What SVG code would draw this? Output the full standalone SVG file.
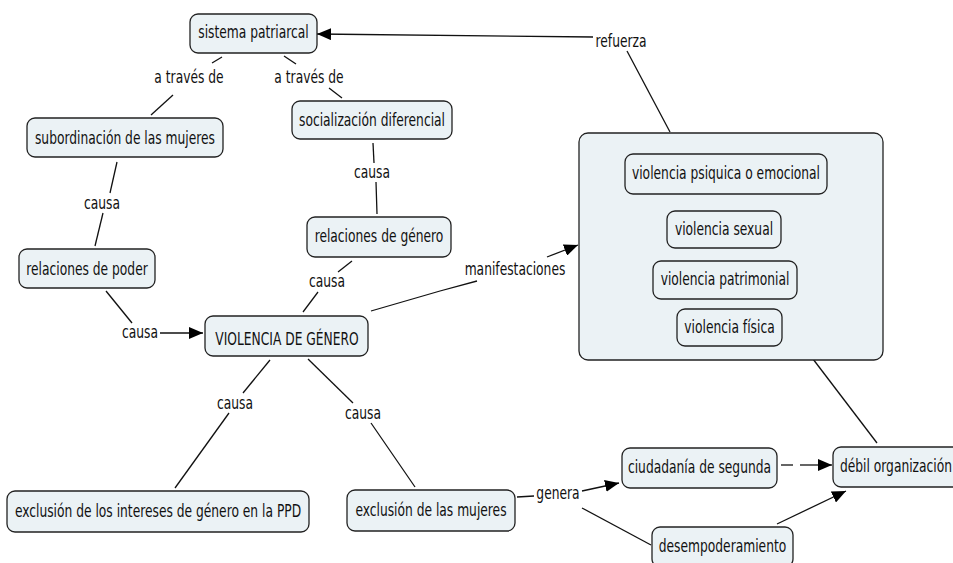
<svg xmlns="http://www.w3.org/2000/svg" width="953" height="563" viewBox="0 0 953 563">
<style>
.n{fill:#ebf2f5;stroke:#222;stroke-width:1.3}
.t{font-family:"DejaVu Sans Condensed","DejaVu Sans",sans-serif;font-size:17.5px;fill:#111;text-anchor:middle;transform-box:fill-box;transform-origin:center;transform:scaleX(0.78)}
.c line,.c polyline{stroke:#111;stroke-width:1.3;fill:none}
.a{marker-end:url(#ah)}
</style>
<defs>
<marker id="ah" markerUnits="userSpaceOnUse" markerWidth="14" markerHeight="12" viewBox="0 0 14 12" refX="14" refY="6" orient="auto">
<path d="M0,0 L14,6 L0,12 z" fill="#000"/>
</marker>
</defs>
<rect width="953" height="563" fill="#fff"/>
<g class="c" id="connectors">
<line x1="222" y1="57" x2="212" y2="63"/>
<line x1="173" y1="95" x2="151" y2="115"/>
<line x1="284" y1="56" x2="296" y2="64"/>
<line x1="329" y1="88" x2="342" y2="98"/>
<line x1="373" y1="143" x2="374" y2="163"/>
<line x1="376" y1="182" x2="377" y2="214"/>
<line x1="352" y1="261" x2="338" y2="272"/>
<line x1="318" y1="292" x2="303" y2="312"/>
<line x1="117" y1="162" x2="110" y2="193"/>
<line x1="103" y1="213" x2="95" y2="246"/>
<line x1="106" y1="291" x2="132" y2="323"/>
<line class="a" x1="160" y1="333" x2="203" y2="333"/>
<polyline points="371,311 440,291 477,281"/>
<line class="a" x1="547" y1="257" x2="578" y2="245"/>
<line x1="670" y1="132" x2="627" y2="51"/>
<line class="a" x1="593" y1="37" x2="317" y2="34"/>
<line x1="813" y1="359" x2="877" y2="443"/>
<line x1="270" y1="360" x2="243" y2="393"/>
<line x1="229" y1="413" x2="175" y2="488"/>
<line x1="308" y1="359" x2="353" y2="403"/>
<line x1="371" y1="423" x2="415" y2="487"/>
<line x1="517" y1="497" x2="534" y2="496"/>
<line class="a" x1="582" y1="491" x2="619" y2="483"/>
<line x1="582" y1="508" x2="651" y2="545"/>
<line x1="781" y1="465" x2="793" y2="465"/>
<line class="a" x1="800" y1="465" x2="832" y2="465"/>
<line class="a" x1="777" y1="524" x2="846" y2="491"/>
<text class="t" x="189" y="83">a través de</text>
<text class="t" x="309" y="83">a través de</text>
<text class="t" x="372" y="178">causa</text>
<text class="t" x="327" y="287">causa</text>
<text class="t" x="102" y="209">causa</text>
<text class="t" x="140" y="338">causa</text>
<text class="t" x="235" y="409">causa</text>
<text class="t" x="363" y="419">causa</text>
<text class="t" x="515" y="275">manifestaciones</text>
<text class="t" x="621" y="47">refuerza</text>
<text class="t" x="558" y="499">genera</text>
</g>
<g id="sistema"><rect class="n" x="190" y="14" width="127" height="39" rx="8"/><text class="t" x="253.5" y="38.5">sistema patriarcal</text></g>
<g id="subordinacion"><rect class="n" x="27" y="118" width="196" height="39" rx="8"/><text class="t" x="125" y="144">subordinación de las mujeres</text></g>
<g id="socializacion"><rect class="n" x="292" y="101" width="160" height="38" rx="8"/><text class="t" x="372" y="126.5">socialización diferencial</text></g>
<g id="relgenero"><rect class="n" x="307" y="217" width="144" height="40" rx="8"/><text class="t" x="379" y="242.5">relaciones de género</text></g>
<g id="relpoder"><rect class="n" x="19" y="249" width="136" height="39" rx="8"/><text class="t" x="87" y="275">relaciones de poder</text></g>
<g id="violencia"><rect class="n" x="205" y="316" width="163" height="40" rx="8"/><text class="t" x="287" y="345.5">VIOLENCIA DE GÉNERO</text></g>
<g id="manifest">
<rect class="n" x="579" y="133" width="304" height="227" rx="9"/>
<g id="psiquica"><rect class="n" x="625" y="154" width="202" height="40" rx="8"/><text class="t" x="726" y="179.5">violencia psiquica o emocional</text></g>
<g id="sexual"><rect class="n" x="667" y="211" width="114" height="37" rx="8"/><text class="t" x="724" y="235">violencia sexual</text></g>
<g id="patrimonial"><rect class="n" x="653" y="261" width="144" height="38" rx="8"/><text class="t" x="725" y="285.5">violencia patrimonial</text></g>
<g id="fisica"><rect class="n" x="677" y="309" width="105" height="37" rx="8"/><text class="t" x="729.5" y="333.5">violencia física</text></g>
</g>
<g id="exclppd"><rect class="n" x="7" y="491" width="302" height="41" rx="8"/><text class="t" x="158" y="517.5">exclusión de los intereses de género en la PPD</text></g>
<g id="exclmuj"><rect class="n" x="347" y="490" width="168" height="41" rx="8"/><text class="t" x="431" y="516.5">exclusión de las mujeres</text></g>
<g id="ciudadania"><rect class="n" x="622" y="448" width="155" height="40" rx="8"/><text class="t" x="699.5" y="473.5">ciudadanía de segunda</text></g>
<g id="debil"><rect class="n" x="833" y="447" width="130" height="40" rx="8"/><text class="t" x="896" y="472.5">débil organización</text></g>
<g id="desemp"><rect class="n" x="652" y="527" width="141" height="40" rx="8"/><text class="t" x="722.5" y="552.5">desempoderamiento</text></g>
</svg>
